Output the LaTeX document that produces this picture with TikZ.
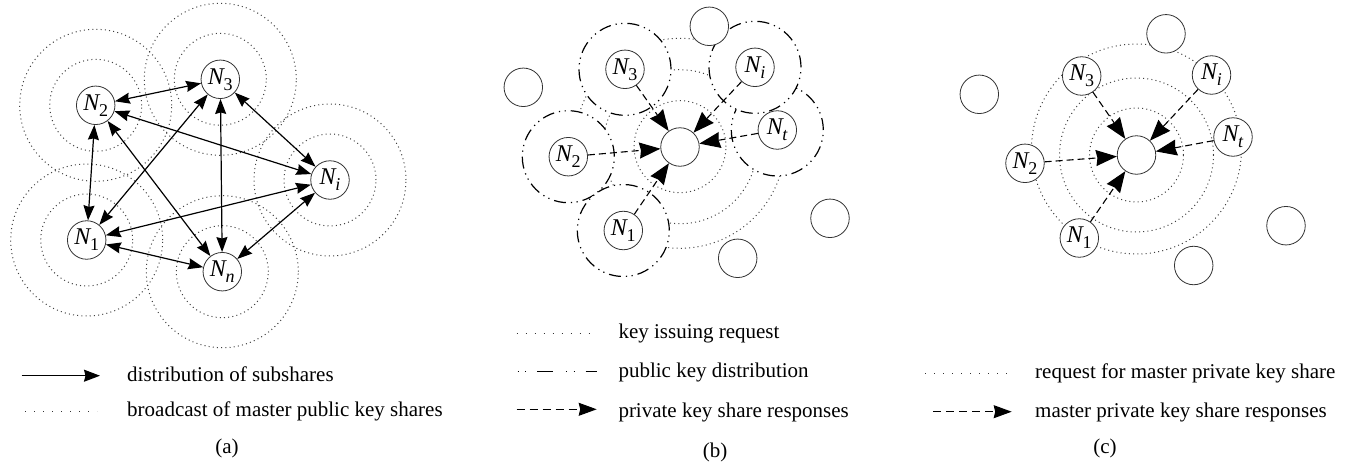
\documentclass[tikz,border=0pt]{standalone}
\usepackage{fontspec}
\setmainfont{Liberation Serif}
\usetikzlibrary{arrows.meta}
\newcommand{\Nl}[1]{\textit{N}\kern-1.5pt\raisebox{-6pt}{\fontsize{18}{18}\selectfont #1}}
\begin{document}
\begin{tikzpicture}[x=1pt,y=-1pt,
  nd/.style={circle, draw=black!80, line width=0.8pt, fill=white, minimum size=38.5pt, inner sep=0pt, font=\fontsize{24}{24}\selectfont},
  ring/.style={draw=black!75, line width=1pt, dash pattern=on 1pt off 3.2pt},
  ddash/.style={draw=black, line width=1.2pt, fill=white, dash pattern=on 12pt off 5pt on 1.2pt off 4.5pt on 1.2pt off 5pt},
  biarrow/.style={{Stealth[length=15pt,width=11pt,inset=1.5pt]}-{Stealth[length=15pt,width=11pt,inset=1.5pt]}, line width=1.2pt},
  resp/.style={-{Stealth[length=21pt,width=16pt,inset=1.5pt]}, line width=1.1pt, dash pattern=on 7pt off 4pt},
  legdot/.style={draw=black!80, line width=1pt, dash pattern=on 1pt off 8pt},
  lab/.style={anchor=base west, font=\fontsize{21}{21}\selectfont, inner sep=0pt},
  captxt/.style={anchor=base, font=\fontsize{21}{21}\selectfont, inner sep=0pt}]
\useasboundingbox (0,0) rectangle (1353,466);
% ---------------- (a) ----------------
\foreach \cx/\cy in {95.7/105.3, 220.3/79.3, 330/180, 86.7/240, 222.3/271.7}{
  \draw[ring] (\cx,\cy) circle[radius=46pt];
  \draw[ring] (\cx,\cy) circle[radius=76pt];
}
\node[nd] (a2) at (95.7,105.3) {\Nl{2}};
\node[nd] (a3) at (220.3,79.3) {\Nl{3}};
\node[nd] (ai) at (330,180) {\Nl{\textit{i}}};
\node[nd] (a1) at (86.7,240) {\Nl{1}};
\node[nd] (an) at (222.3,271.7) {\Nl{\textit{n}}};
\draw[biarrow] (a2) -- (a3);
\draw[biarrow] (a2) -- (ai);
\draw[biarrow] (a2) -- (a1);
\draw[biarrow] (a2) -- (an);
\draw[biarrow] (a3) -- (a1);
\draw[biarrow] (a3) -- (an);
\draw[biarrow] (a3) -- (ai);
\draw[biarrow] (ai) -- (a1);
\draw[biarrow] (ai) -- (an);
\draw[biarrow] (a1) -- (an);
% legend (a)
\coordinate (la1s) at (21.7,375.7); \coordinate (la1e) at (100,375.7);
\draw[-{Stealth[length=16pt,width=12pt,inset=1.5pt]}, line width=1.2pt] (la1s) -- (la1e);
\node[lab] (ta1) at (127,381.7) {distribution of subshares};
\coordinate (la2s) at (25,411.7); \coordinate (la2e) at (97,411.7);
\draw[legdot] (la2s) -- (la2e);
\node[lab] (ta2) at (127,416) {broadcast of master public key shares};
\node[captxt] (capa) at (227,453) {(a)};
% ---------------- (b) ----------------
\draw[ring] (680,146.7) circle[radius=46pt];
\draw[ring] (680,146.7) circle[radius=77pt];
\draw[ring] (680,143.3) circle[radius=105pt];
\path[ddash] (777.3,130) circle[radius=46pt];
\path[ddash] (755,67.3) circle[radius=46pt];
\path[ddash] (625,69.3) circle[radius=46pt];
\path[ddash] (568.3,156.7) circle[radius=46pt];
\path[ddash] (623.3,230.5) circle[radius=46pt];
\node[nd] (bc) at (680,147) {};
\node[nd] (b3) at (625,69.3) {\Nl{3}};
\node[nd] (bi) at (755,67.3) {\Nl{\textit{i}}};
\node[nd] (bt) at (777.3,130) {\Nl{\textit{t}}};
\node[nd] (b2) at (568.3,156.7) {\Nl{2}};
\node[nd] (b1) at (623.3,230.5) {\Nl{1}};
\node[nd] (be1) at (523.3,87.3) {};
\node[nd] (be2) at (709.3,26.3) {};
\node[nd] (be3) at (830,218.3) {};
\node[nd] (be4) at (737.7,258.3) {};
\draw[resp] (b3) -- (bc);
\draw[resp] (bi) -- (bc);
\draw[resp] (bt) -- (bc);
\draw[resp] (b2) -- (bc);
\draw[resp] (b1) -- (bc);
% legend (b)
\coordinate (lb1s) at (516.7,333); \coordinate (lb1e) at (596.7,333);
\draw[legdot] (lb1s) -- (lb1e);
\node[lab] (tb1) at (618.3,338.3) {key issuing request};
\coordinate (lb2s) at (517.5,371.7); \coordinate (lb2e) at (597,371.7);
\draw[line width=1.4pt, dash pattern=on 1pt off 6.8pt on 1pt off 11pt on 15.5pt off 13pt] (lb2s) -- (lb2e);
\node[lab] (tb2) at (618.3,377.7) {public key distribution};
\coordinate (lb3s) at (516.7,409.3); \coordinate (lb3e) at (596.7,409.3);
\draw[-{Stealth[length=18pt,width=13pt,inset=1.5pt]}, line width=1.1pt, dash pattern=on 8pt off 5pt] (lb3s) -- (lb3e);
\node[lab] (tb3) at (618.3,417.3) {private key share responses};
\node[captxt] (capb) at (715,457.3) {(b)};
% ---------------- (c) ----------------
\draw[ring] (1136.5,155) circle[radius=47pt];
\draw[ring] (1136.5,155) circle[radius=77pt];
\draw[ring] (1136.5,149) circle[radius=105pt];
\node[nd] (cc) at (1136.5,155) {};
\node[nd] (c3) at (1081.7,76) {\Nl{3}};
\node[nd] (ci) at (1211.5,75) {\Nl{\textit{i}}};
\node[nd] (ct) at (1233,137) {\Nl{\textit{t}}};
\node[nd] (c2) at (1025,163.3) {\Nl{2}};
\node[nd] (c1) at (1079.3,238) {\Nl{1}};
\node[nd] (ce1) at (1166,33.8) {};
\node[nd] (ce2) at (979.3,94.3) {};
\node[nd] (ce3) at (1286,225.7) {};
\node[nd] (ce4) at (1193.7,265.5) {};
\draw[resp] (c3) -- (cc);
\draw[resp] (ci) -- (cc);
\draw[resp] (ct) -- (cc);
\draw[resp] (c2) -- (cc);
\draw[resp] (c1) -- (cc);
% legend (c)
\coordinate (lc1s) at (925,373.3); \coordinate (lc1e) at (1006.7,373.3);
\draw[legdot] (lc1s) -- (lc1e);
\node[lab] (tc1) at (1035,378.3) {request for master private key share};
\coordinate (lc2s) at (933,411.7); \coordinate (lc2e) at (1011.7,411.7);
\draw[-{Stealth[length=18pt,width=13pt,inset=1.5pt]}, line width=1.1pt, dash pattern=on 8pt off 5pt] (lc2s) -- (lc2e);
\node[lab] (tc2) at (1035,417.3) {master private key share responses};
\node[captxt] (capc) at (1105,453.3) {(c)};
\end{tikzpicture}
\end{document}
